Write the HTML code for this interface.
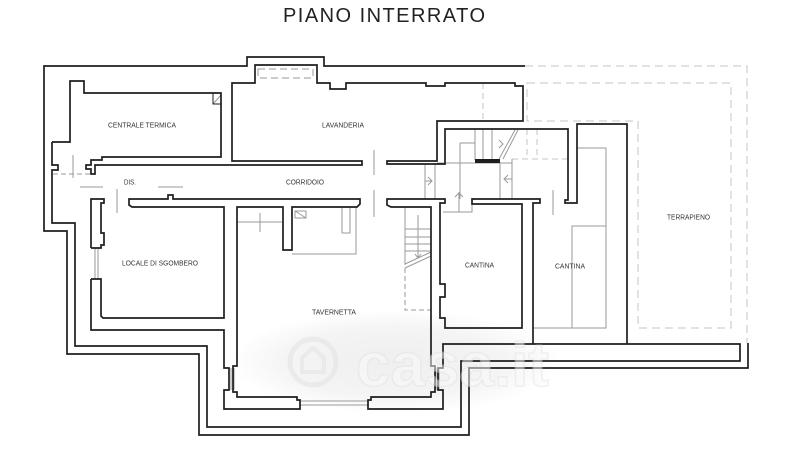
<!DOCTYPE html>
<html><head><meta charset="utf-8">
<style>
html,body{margin:0;padding:0;background:#fff;}
svg{display:block;}
</style></head><body>
<svg width="800" height="466" viewBox="0 0 800 466" xmlns="http://www.w3.org/2000/svg">
<defs>
<radialGradient id="hz" cx="50%" cy="50%" r="50%">
<stop offset="0" stop-color="#efefef"/>
<stop offset="0.65" stop-color="#f4f4f4"/>
<stop offset="1" stop-color="#ffffff"/>
</radialGradient>
</defs>
<rect width="800" height="466" fill="#fff"/>
<ellipse cx="395" cy="362" rx="165" ry="52" fill="url(#hz)"/>

<text x="283" y="22" font-family="Liberation Sans, Arial, sans-serif" font-size="20" textLength="202" lengthAdjust="spacing" fill="#222">PIANO INTERRATO</text>

<!-- light dashed -->
<g fill="none" stroke="#c4c4c4" stroke-width="1">
<path d="M525,66 H747 V343" stroke-dasharray="8,5"/>
<path d="M527,83 H731 V328 H638 V121 H527 Z" stroke-dasharray="8,5"/>
<path d="M483,83 V121" stroke-dasharray="6,4"/>
<path d="M527,129 V158 M537,129 V158 M512,159 H567" stroke-dasharray="6,4"/>
</g>

<!-- gray details -->
<g fill="none" stroke="#9a9a9a" stroke-width="1">
<rect x="258" y="69" width="55" height="9" stroke-dasharray="7,4"/>
<path d="M475,129 V160 M483,129 V160 M492,129 V160 M460,143 H475 M460,143 V199 M437,163 H512"/>
<path d="M499,159 L515,130 M503,159 L518,130"/>
<path d="M499,140 L503,144 L499,148"/>
<path d="M425,164 V199 M435,164 V199 M500,163 V199 M512,159 V199"/>
<path d="M428,177 L432,181 L428,185 M425,181 H432"/>
<path d="M508,175 L504,179 L508,183 M504,179 H512"/>
<path d="M443,212 H472 V204 M459,192 V212 M455,197 L459,193 L463,197"/>
<path d="M374,150 V175 M374,190 V217 M553,190 V215 M117,189 V213 M73,155 V178 M80,187 H103 M158,187 H183"/>
<path d="M53,174 H90" stroke-dasharray="5,3"/>
<path d="M237,222 H282 M260,213 V232 M356,207 V254 H292"/>
<rect x="342" y="207" width="8" height="26"/>
<rect x="295" y="211" width="11" height="7"/>
<path d="M295,211 L306,218"/>
<path d="M213,104 L221,95"/>
<path d="M405,207 V265 M405,229 H431 M405,237 H431 M405,244 H431 M405,251 H431 M405,268 L431,256 M405,264 L431,252 M418,215 V258 M415,254 L418,258 L421,254"/>
<path d="M405,268 V310 H431" stroke-dasharray="5,3"/>
<path d="M577,148 H606 V328 H533 M572,328 V226 H606"/>
<path d="M95,248 V279 M98,248 V279 M231,368 V390 M234,368 V390 M436,368 V390 M439,368 V390 M300,401 H368 M300,405 H368"/>
</g>

<!-- walls -->
<g fill="none" stroke="#1e1e1e" stroke-width="1.7" stroke-linejoin="miter">
<path d="M525,66 H324 V57 H247 V66 H44 V231 H67 V354 H199 V435 H469 V368 H748 V343"/>
<path d="M52,142 H70 V81 H84 V93 H221 V157 H102 V160 H91 V165 H86 V169 H91 V174 H95 V165 H362 V161 H232 V83 H255 V65 H317 V83 H330 V89 H346 V83 H426 V86 H445 V83 H515 V86 H523 V121 H437 V161 H387 V164 H445 V129 H568 V200 H565 V203 H577 V124 H627 V344"/>
<path d="M52,142 V165 H58 V170 H52 V223 H75 V346 H207 V427 H461 V361 H740 V344 H443 V368 H438 V390 H443 V409 H368 V400 H371 V397 H431 V392 H435 V366 H431 V207 H391 L387,205 V199 H445 V203 H440 V284 H445 V297 H440 V318 H445 V328 H522 V204 H472 V199 H540 V203 H533 V344"/>
<path d="M91,279 V330 H224 V368 H229 V390 H224 V409 H300 V400 H297 V397 H237 V392 H233 V366 H237 V207 H283 V250 H292 V207 H357 L360,204 V199 H173 V195 H168 V199 H129 V205 L132,207 H224 V318 H103 L101,316 V279 H91"/>
<path d="M91,248 V199 H104 V203 H101 V233 H104 V245 H101 V248 H91"/>
<rect x="213" y="93" width="8" height="11" stroke-width="1"/>
</g>
<rect x="475" y="159" width="25" height="4" fill="#1e1e1e"/>

<!-- labels -->
<g font-family="Liberation Sans, Arial, sans-serif" font-size="7.5" fill="#333">
<text x="108" y="127.5" textLength="68" lengthAdjust="spacingAndGlyphs">CENTRALE TERMICA</text>
<text x="322" y="127.5" textLength="42" lengthAdjust="spacingAndGlyphs">LAVANDERIA</text>
<text x="124" y="184.5" textLength="12" lengthAdjust="spacingAndGlyphs">DIS.</text>
<text x="286" y="184.5" textLength="38" lengthAdjust="spacingAndGlyphs">CORRIDOIO</text>
<text x="122" y="265.5" textLength="76" lengthAdjust="spacingAndGlyphs">LOCALE DI SGOMBERO</text>
<text x="312" y="314.5" textLength="44" lengthAdjust="spacingAndGlyphs">TAVERNETTA</text>
<text x="465" y="267.5" textLength="29" lengthAdjust="spacingAndGlyphs">CANTINA</text>
<text x="555" y="268.5" textLength="30" lengthAdjust="spacingAndGlyphs">CANTINA</text>
<text x="667" y="219.5" textLength="43" lengthAdjust="spacingAndGlyphs">TERRAPIENO</text>
</g>

<!-- watermark -->
<g opacity="0.5">
<circle cx="313" cy="362" r="23" fill="none" stroke="#e2e2e2" stroke-width="5"/>
<path d="M302,372 V358 L313,348 L324,358 V372 Z" fill="none" stroke="#e2e2e2" stroke-width="4"/>
<text x="356" y="386" font-family="Liberation Sans, Arial, sans-serif" font-weight="bold" font-size="62" fill="#fafafa" stroke="#e4e4e4" stroke-width="1.5">casa.it</text>
</g>
</svg>
</body></html>
